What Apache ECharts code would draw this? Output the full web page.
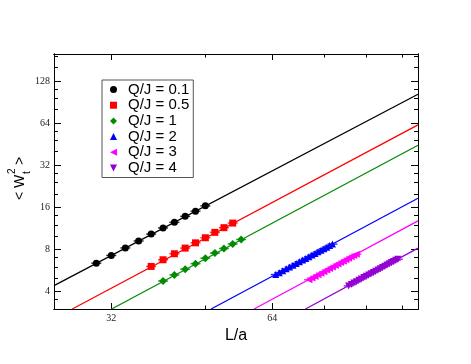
<!DOCTYPE html>
<html>
<head>
<meta charset="utf-8">
<script src="https://cdn.jsdelivr.net/npm/echarts@6/dist/echarts.min.js"></script>
<style>
  html, body { margin: 0; padding: 0; background: #fff; }
  #main { width: 471px; height: 364px; }
</style>
</head>
<body>
<div id="main"></div>
<script>
// axis ranges and ticks (real values, plotted on log2 scale)
const xRange = [25, 120];
const yRange = [3, 200];
const xTicksMajor = [32, 64];
const xTicksMinor = [48, 80, 96, 112];
const yTicksMajor = [4, 8, 16, 32, 64, 128];
const yTicksMinor = [3.5, 5, 6, 7, 10, 12, 14, 20, 24, 28, 40, 48, 56, 80, 96, 112, 160, 192];

const names = ['Q/J = 0.1', 'Q/J = 0.5', 'Q/J = 1', 'Q/J = 2', 'Q/J = 3', 'Q/J = 4'];
const colors = ['#000000', '#ff0000', '#008b00', '#0000ff', '#ff00ff', '#9400d3'];

// data points
const L01 = [30, 32, 34, 36, 38, 40, 42, 44, 46, 48];
const W01 = [6.38, 7.25, 8.2, 9.2, 10.3, 11.4, 12.5, 13.8, 15.0, 16.4];
const L05 = [38, 40, 42, 44, 46, 48, 50, 52, 54];
const W05 = [6.05, 6.75, 7.45, 8.18, 8.92, 9.7, 10.6, 11.45, 12.35];
const L1 = [40, 42, 44, 46, 48, 50, 52, 54, 56];
const W1 = [4.76, 5.26, 5.78, 6.33, 6.93, 7.53, 8.13, 8.76, 9.42];
const L2 = [65, 66, 67, 68, 69, 70, 71, 72, 73, 74, 75, 76, 77, 78, 79, 80, 81, 82, 83];
const W2 = [5.29, 5.46, 5.63, 5.81, 5.98, 6.16, 6.34, 6.53, 6.71, 6.9, 7.1, 7.29, 7.49, 7.69, 7.9, 8.1, 8.31, 8.52, 8.74];
const L3 = [75, 76, 77, 78, 79, 80, 81, 82, 83, 84, 85, 86, 87, 88, 89, 90, 91, 92];
const W3 = [4.86, 4.99, 5.13, 5.27, 5.41, 5.55, 5.7, 5.84, 5.99, 6.14, 6.29, 6.44, 6.6, 6.76, 6.92, 7.08, 7.24, 7.4];
const L4 = [89, 90, 91, 92, 93, 94, 95, 96, 97, 98, 99, 100, 101, 102, 103, 104, 105, 106, 107, 108, 109, 110];
const W4 = [4.39, 4.49, 4.6, 4.7, 4.81, 4.92, 5.03, 5.14, 5.25, 5.36, 5.48, 5.59, 5.71, 5.83, 5.95, 6.07, 6.19, 6.31, 6.44, 6.56, 6.69, 6.82];

// fitted lines, end points
const fitL01 = [25, 120], fitW01 = [4.41, 103];
const fitL05 = [27.05, 120], fitW05 = [3, 62.2];
const fitL1 = [32.05, 120], fitW1 = [3, 44.5];
const fitL2 = [49.2, 120], fitW2 = [3, 18.6];
const fitL3 = [59.2, 120], fitW3 = [3, 12.8];
const fitL4 = [73.9, 120], fitW4 = [3, 8.17];

const pointsL = [L01, L05, L1, L2, L3, L4];
const pointsW = [W01, W05, W1, W2, W3, W4];
const fitsL = [fitL01, fitL05, fitL1, fitL2, fitL3, fitL4];
const fitsW = [fitW01, fitW05, fitW1, fitW2, fitW3, fitW4];
const triLeft = 'path://M0,5L10,0L10,10Z';
const triDown = 'path://M0,0L10,0L5,10Z';
const symbols = ['circle', 'rect', 'diamond', 'triangle', triLeft, triDown];

const l2 = Math.log2;
const pairs = (xs, ys) => xs.map((x, i) => [l2(x), l2(ys[i])]);

const chart = echarts.init(document.getElementById('main'));

function makeAxis(range, pos, ticks, len, labels) {
  const ax = {
    type: 'value',
    position: pos,
    min: l2(range[0]),
    max: l2(range[1]),
    axisLine: { show: true, onZero: false, lineStyle: { color: '#000', width: 1 } },
    axisTick: { show: true, inside: true, length: len, customValues: ticks.map(l2), lineStyle: { color: '#000', width: 1 } },
    axisLabel: { show: false },
    splitLine: { show: false }
  };
  if (labels) {
    ax.axisLabel = {
      show: true,
      customValues: labels.map(l2),
      formatter: v => String(Math.round(Math.pow(2, v))),
      fontFamily: 'Liberation Serif',
      fontSize: 10,
      color: '#222',
      margin: 4
    };
  }
  return ax;
}

const xAxes = [
  makeAxis(xRange, 'bottom', xTicksMajor, 6, xTicksMajor),
  makeAxis(xRange, 'bottom', xTicksMinor, 3.5, null),
  makeAxis(xRange, 'top', xTicksMajor, 6, null),
  makeAxis(xRange, 'top', xTicksMinor, 3.5, null)
];
xAxes[0].name = 'L/a';
xAxes[0].nameLocation = 'middle';
xAxes[0].nameGap = 11;
xAxes[0].nameTextStyle = { fontFamily: 'Liberation Sans', fontSize: 16, color: '#000' };

const yAxes = [
  makeAxis(yRange, 'left', yTicksMajor, 7, yTicksMajor),
  makeAxis(yRange, 'left', yTicksMinor, 4, null),
  makeAxis(yRange, 'right', yTicksMajor, 7, null),
  makeAxis(yRange, 'right', yTicksMinor, 4, null)
];

const series = [];
names.forEach((name, i) => {
  series.push({
    name: name + ' fit',
    type: 'line',
    data: pairs(fitsL[i], fitsW[i]),
    showSymbol: false,
    clip: true,
    lineStyle: { color: colors[i], width: 1.3 },
    z: 1,
    silent: true
  });
  // small horizontal caps through each point
  series.push({
    name: name + ' bar',
    type: 'scatter',
    data: pairs(pointsL[i], pointsW[i]),
    symbol: 'rect',
    symbolSize: [10, 1.5],
    itemStyle: { color: colors[i] },
    z: 2,
    silent: true
  });
  series.push({
    name: name,
    type: 'scatter',
    data: pairs(pointsL[i], pointsW[i]),
    symbol: symbols[i],
    symbolSize: symbols[i] === 'diamond' ? 8 : 7,
    itemStyle: { color: colors[i], opacity: 1 },
    z: 3
  });
});

chart.setOption({
  animation: false,
  backgroundColor: '#fff',
  grid: { left: 54, top: 54, width: 364, height: 255, containLabel: false },
  xAxis: xAxes,
  yAxis: yAxes,
  legend: {
    data: names.map((n, i) => ({ name: n, icon: symbols[i] })),
    orient: 'vertical',
    left: 102,
    top: 80,
    itemWidth: 7,
    itemHeight: 7,
    itemGap: 0.7,
    selectedMode: false,
    padding: [2, 4, 2, 8],
    borderColor: '#555',
    borderWidth: 1,
    backgroundColor: '#fff',
    textStyle: { fontFamily: 'Liberation Sans', fontSize: 15, lineHeight: 15, color: '#000', padding: [0, 0, 0, 6] }
  },
  graphic: [{
    type: 'group',
    x: 20,
    y: 200,
    rotation: Math.PI / 2,
    children: [
      { type: 'text', x: 0, y: 0, style: { text: '< W', font: '14px "Liberation Sans"', fill: '#000', verticalAlign: 'middle' } },
      { type: 'text', x: 26, y: -8, style: { text: '2', font: '10px "Liberation Sans"', fill: '#000', verticalAlign: 'middle' } },
      { type: 'text', x: 26, y: 7, style: { text: 't', font: '10px "Liberation Sans"', fill: '#000', verticalAlign: 'middle' } },
      { type: 'text', x: 35, y: 0, style: { text: '>', font: '14px "Liberation Sans"', fill: '#000', verticalAlign: 'middle' } }
    ]
  }],
  series: series
});
</script>
</body>
</html>
